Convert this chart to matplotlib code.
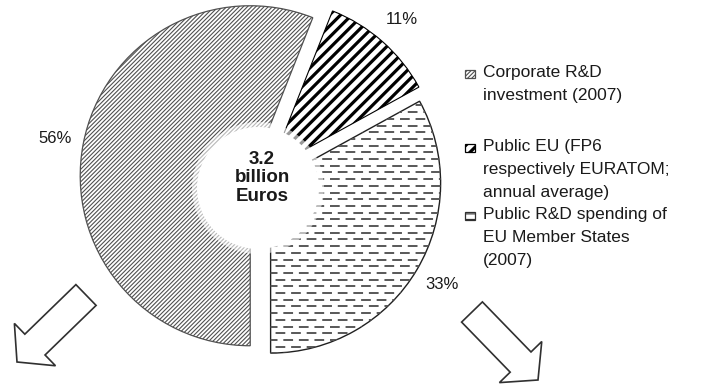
import matplotlib
matplotlib.use("Agg")
import matplotlib.pyplot as plt
import numpy as np
from matplotlib.patches import Circle, Rectangle, FancyArrow

plt.rcParams['font.family'] = ['Liberation Sans', 'DejaVu Sans']

# data
categories = ["Corporate R&D\ninvestment (2007)",
              "Public EU (FP6\nrespectively EURATOM;\nannual average)",
              "Public R&D spending of\nEU Member States\n(2007)"]
shares = [56, 11, 33]
total_label = "3.2\nbillion\nEuros"

W, H = 701, 385
TXT = '#1a1a1a'


def fy(y):
    # top-down pixel -> axes y
    return H - y


def hatch_lw(p, lw):
    if hasattr(p, 'set_hatch_linewidth'):
        p.set_hatch_linewidth(lw)
    orig = p.draw

    def draw(renderer):
        with plt.rc_context({'hatch.linewidth': lw}):
            orig(renderer)
    p.draw = draw


fig = plt.figure(figsize=(W / 100, H / 100), dpi=100)
ax = fig.add_axes([0, 0, 1, 1])

R = 170
# explode is in data units (pixels here)
wedges, texts = ax.pie(shares, explode=[12, 12, 10], radius=R,
                       center=(262, fy(178)), startangle=270, counterclock=False,
                       labels=[f"{s}%" for s in shares], labeldistance=1.17,
                       textprops=dict(fontsize=12, color=TXT))
for t in texts:
    t.set_ha('center')
    t.set_va('center')

styles = [dict(hatch='////////', ec='#505050', lw=0.9, hlw=0.8),
          dict(hatch='///', ec='#000000', lw=0.8, hlw=2.3),
          dict(hatch=None, ec='#202020', lw=1.0, hlw=1.0)]
for w, st in zip(wedges, styles):
    w.set_facecolor('white')
    w.set_edgecolor(st['ec'])
    w.set_linewidth(st['lw'])
    if st['hatch']:
        w.set_hatch(st['hatch'])
        hatch_lw(w, st['hlw'])

# dashed fill for the member-states wedge
w3 = wedges[2]
for i, yy in enumerate(np.arange(fy(360), fy(80), 6.7)):
    ln, = ax.plot([260, 450], [yy, yy], color='#585858', lw=1.4,
                  linestyle=((i % 2) * 4, (5, 3)), solid_capstyle='butt',
                  dash_capstyle='butt', zorder=1.5)
    ln.set_clip_path(w3)

# white hole in the middle
ax.add_patch(Circle((258, fy(188)), 66, fc='white', ec='none', alpha=0.6, zorder=3))
ax.add_patch(Circle((258, fy(188)), 61, fc='white', ec='none', zorder=3))
ax.text(262, fy(178), total_label, ha='center', va='center', fontsize=13.5,
        fontweight='bold', color=TXT, linespacing=1.1, zorder=4)

# legend
legend_y = [73, 147, 215]
box_hatch = [('////////', '#505050', 0.8), ('///', '#000000', 2.3), ('---', '#303030', 0.8)]
for lbl, y0, (h, c, lw) in zip(categories, legend_y, box_hatch):
    box = Rectangle((465, fy(y0 + 4.5)), 10, 8, fc='white', ec=c, lw=0.9, hatch=h, zorder=4)
    ax.add_patch(box)
    hatch_lw(box, lw)
    for k, line in enumerate(lbl.split('\n')):
        ax.text(483, fy(y0 + k * 22.5), line, ha='left', va='center',
                fontsize=12.5, color=TXT)

# arrows
arrow_kw = dict(width=29, head_width=59, head_length=25, length_includes_head=True,
                fc='white', ec='#303030', lw=1.2, zorder=4)
ax.add_patch(FancyArrow(86, fy(295), -69, -67, **arrow_kw))
ax.add_patch(FancyArrow(472, fy(312), 66, -68, **arrow_kw))

ax.set_xlim(0, W)
ax.set_ylim(0, H)
ax.set_aspect('equal')
ax.axis('off')

fig.savefig('out.png', dpi=100, facecolor='white')
